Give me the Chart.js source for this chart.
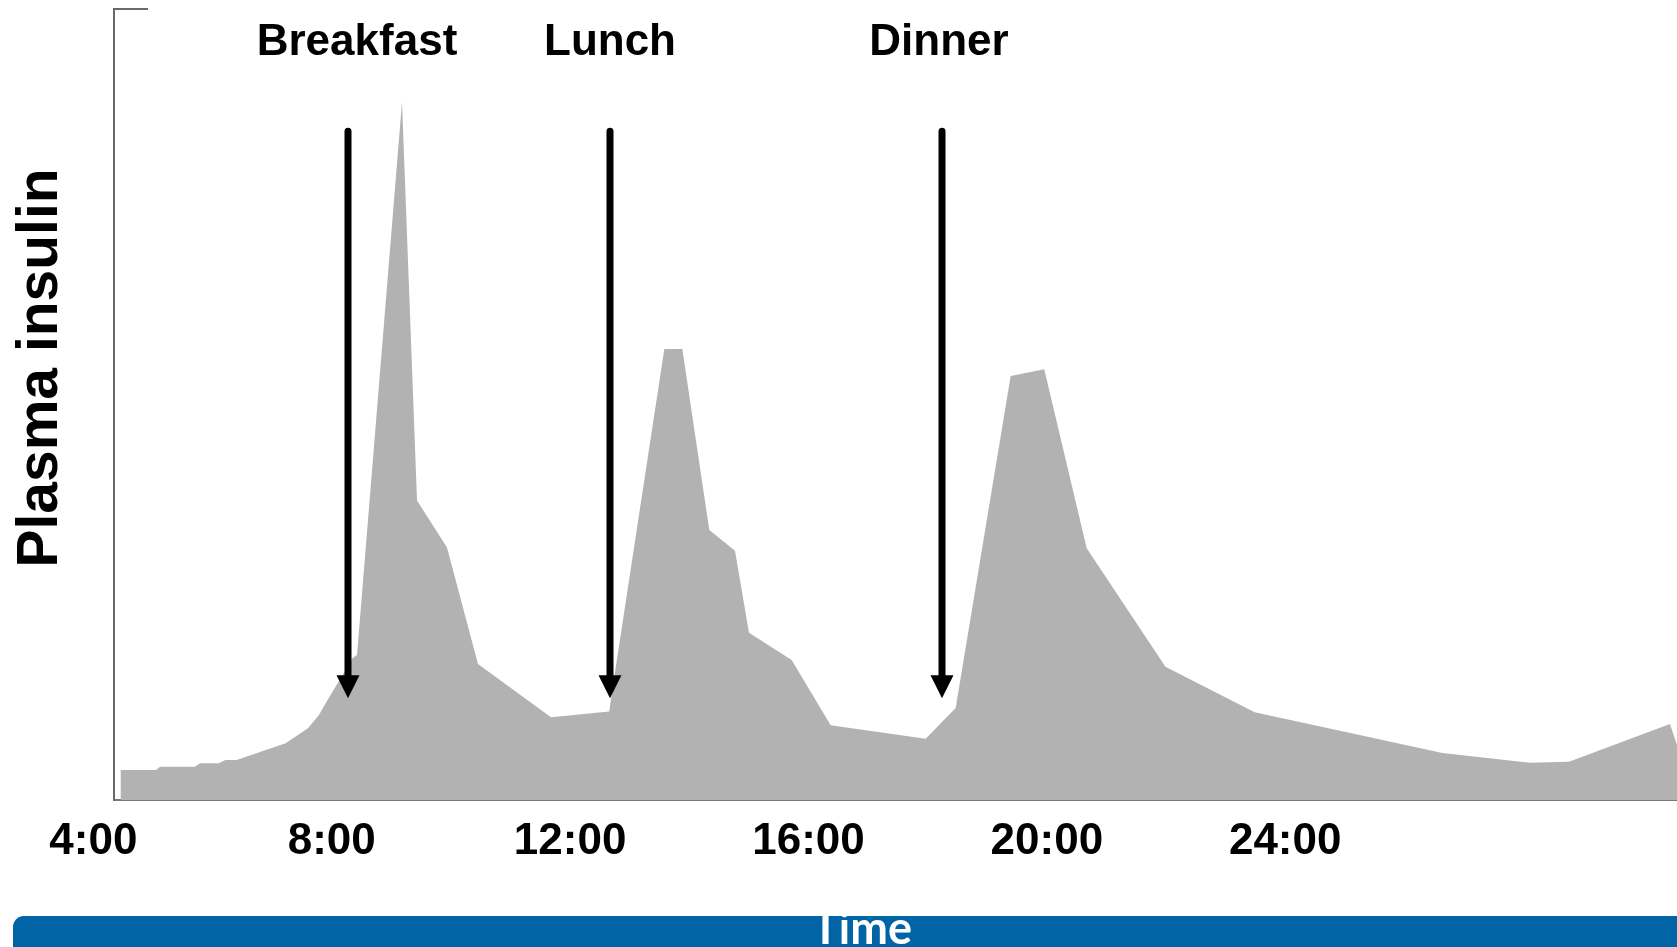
<!DOCTYPE html>
<html>
<head>
<meta charset="utf-8">
<title>Plasma insulin over the day</title>
<script src="https://cdn.jsdelivr.net/npm/chart.js@4.4.1/dist/chart.umd.min.js"></script>
<style>
  html, body { margin: 0; padding: 0; background: #fff; }
  #wrap { position: relative; width: 1677px; height: 947px; overflow: hidden; }
  canvas { display: block; }
</style>
</head>
<body>
<div id="wrap"><canvas id="insulin" width="1677" height="947"></canvas></div>
<script>
// Clock hour of each sample (24 = midnight, values past 24 run into the next morning)
const sampleHours = [
  4.455, 5.051, 5.118, 5.705, 5.789, 6.108, 6.215, 6.403, 7.227, 7.601,
  7.786, 7.863, 8.051, 8.351, 8.424, 9.179, 9.431, 9.934, 10.454, 11.679,
  12.657, 12.703, 13.581, 13.883, 14.336, 14.767, 15.002, 15.718, 16.373, 17.967,
  18.470, 19.393, 19.957, 20.669, 21.991, 23.487, 26.640, 28.108, 28.762, 30.457,
  30.575
];
// Plasma insulin in relative units (0 = axis floor, 100 = axis top)
const insulinLevels = [
  3.79, 3.79, 4.21, 4.21, 4.64, 4.64, 5.06, 5.06, 7.17, 9.06,
  10.75, 11.80, 14.16, 17.95, 18.33, 88.24, 37.86, 31.91, 17.19, 10.46,
  11.19, 13.65, 57.02, 57.02, 34.13, 31.52, 21.15, 17.70, 9.44, 7.74,
  11.63, 53.60, 54.45, 31.82, 16.85, 11.09, 5.94, 4.72, 4.84, 9.61,
  6.95
];
// Hour labels on the time axis
const tickHours = [4, 8, 12, 16, 20, 24];
// Meals and the hour each one is eaten
const mealNames = ['Breakfast', 'Lunch', 'Dinner'];
const mealHours = [8.266, 12.663, 18.249];
// Arrow span for the meal markers, in insulin units
const arrowTopLevel = 84.55;
const arrowTipLevel = 12.86;
// Visible time window
const hourMin = 4.346;
const hourMax = 30.575;

const LABEL_FONT = '"Liberation Sans", Arial, Helvetica, sans-serif';

// Meal arrows and their captions, placed through the chart scales
const mealMarkers = {
  id: 'mealMarkers',
  afterDatasetsDraw(chart, args, opts) {
    const { ctx, scales: { x, y } } = chart;
    ctx.save();
    // short cap at the top of the value axis
    ctx.strokeStyle = '#6a6a6a';
    ctx.lineWidth = 2;
    ctx.beginPath();
    ctx.moveTo(x.left - 1, y.top);
    ctx.lineTo(x.left + 34, y.top);
    ctx.stroke();

    const head = 23, half = 11.5;
    mealHours.forEach((h, i) => {
      const px = Math.round(x.getPixelForValue(h));
      const top = y.getPixelForValue(arrowTopLevel);
      const tip = y.getPixelForValue(arrowTipLevel);
      ctx.strokeStyle = '#000';
      ctx.lineWidth = 7;
      ctx.lineCap = 'round';
      ctx.beginPath();
      ctx.moveTo(px, top);
      ctx.lineTo(px, tip - head + 2);
      ctx.stroke();
      ctx.fillStyle = '#000';
      ctx.beginPath();
      ctx.moveTo(px - half, tip - head);
      ctx.lineTo(px + half, tip - head);
      ctx.lineTo(px, tip);
      ctx.closePath();
      ctx.fill();

      ctx.font = 'bold 44px ' + LABEL_FONT;
      ctx.textAlign = 'center';
      ctx.textBaseline = 'alphabetic';
      ctx.fillText(mealNames[i], px + opts.labelShift[i], opts.labelBaseline);
    });
    ctx.restore();
  }
};

// Axis title on the left and the banner strip along the bottom
const frameTitles = {
  id: 'frameTitles',
  afterDraw(chart, args, opts) {
    const { ctx } = chart;
    ctx.save();
    ctx.translate(opts.yTitleX, opts.yTitleY);
    ctx.rotate(-Math.PI / 2);
    ctx.font = 'bold 57px ' + LABEL_FONT;
    ctx.fillStyle = '#000';
    ctx.textAlign = 'center';
    ctx.textBaseline = 'middle';
    ctx.fillText('Plasma insulin', 0, 0);
    ctx.restore();

    ctx.save();
    ctx.fillStyle = '#0064A5';
    ctx.beginPath();
    ctx.roundRect(opts.bannerLeft, opts.bannerTop, chart.width - opts.bannerLeft + 20, 80, 11);
    ctx.fill();
    ctx.fillStyle = '#fff';
    ctx.font = 'bold 45px Lato, "DejaVu Sans", sans-serif';
    ctx.textAlign = 'center';
    ctx.textBaseline = 'alphabetic';
    ctx.fillText('Time', opts.xTitleX, opts.xTitleBaseline);
    ctx.restore();
  }
};

new Chart(document.getElementById('insulin'), {
  type: 'line',
  data: {
    datasets: [{
      label: 'Plasma insulin',
      data: sampleHours.map((h, i) => ({ x: h, y: insulinLevels[i] })),
      fill: 'origin',
      backgroundColor: '#B2B2B2',
      borderWidth: 0,
      borderColor: 'rgba(0,0,0,0)',
      pointRadius: 0,
      tension: 0
    }]
  },
  options: {
    responsive: false,
    animation: false,
    devicePixelRatio: 1,
    layout: { padding: { left: 0, right: 0, top: 9, bottom: 0 } },
    plugins: {
      legend: { display: false },
      tooltip: { enabled: false },
      mealMarkers: { labelShift: [9, 0, -3], labelBaseline: 55 },
      frameTitles: {
        yTitleX: 41, yTitleY: 368,
        bannerLeft: 13, bannerTop: 916,
        xTitleX: 862, xTitleBaseline: 944
      }
    },
    scales: {
      x: {
        type: 'linear',
        min: hourMin,
        max: hourMax,
        afterBuildTicks(scale) {
          scale.ticks = tickHours.map(v => ({ value: v }));
        },
        afterFit(scale) { scale.height = 147; },
        grid: { display: false, drawTicks: false },
        border: { display: true, color: '#7a7a7a', width: 2 },
        ticks: {
          autoSkip: false,
          maxRotation: 0,
          padding: 15,
          color: '#000',
          font: { family: LABEL_FONT, size: 44, weight: 'bold' },
          callback: v => v + ':00'
        }
      },
      y: {
        min: 0,
        max: 100,
        afterFit(scale) { scale.width = 114; },
        grid: { display: false, drawTicks: false },
        border: { display: true, color: '#6a6a6a', width: 2 },
        ticks: { display: false }
      }
    }
  },
  plugins: [mealMarkers, frameTitles]
});
</script>
</body>
</html>
